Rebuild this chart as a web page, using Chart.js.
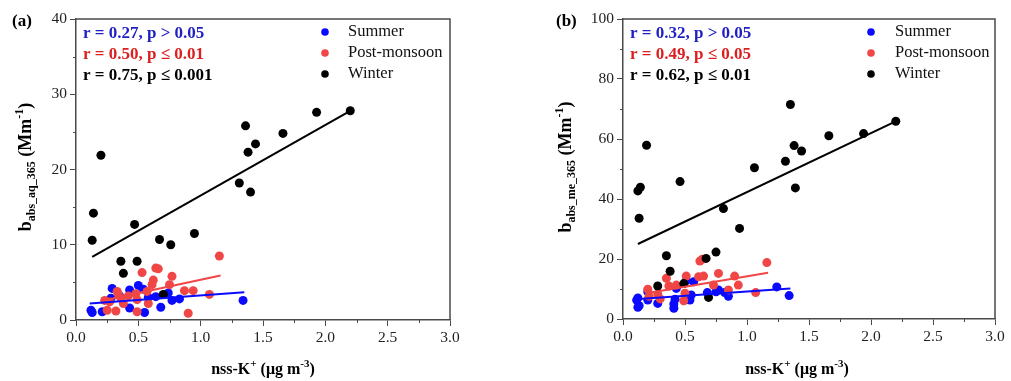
<!DOCTYPE html>
<html>
<head>
<meta charset="utf-8">
<script src="https://cdn.jsdelivr.net/npm/chart.js@4.4.0/dist/chart.umd.min.js"></script>
<style>
  body { margin: 0; background: #fff; width: 1011px; height: 381px; overflow: hidden; position: relative; }
  canvas { position: absolute; top: 0; }
  #chartA { left: 0; }
  #chartB { left: 505px; }
</style>
</head>
<body>
<canvas id="chartA" width="505" height="381"></canvas>
<canvas id="chartB" width="506" height="381"></canvas>
<script>
// series labels
var seasons = ['Summer', 'Post-monsoon', 'Winter'];

// panel (a): b_abs_aq_365 vs nss-K+  [x, y]
var aSummer = [[0.12,1.3],[0.13,1.0],[0.21,1.1],[0.28,2.9],[0.29,4.2],[0.35,3.2],[0.43,4.0],[0.43,1.6],[0.50,4.6],
  [0.54,4.1],[0.55,1.0],[0.58,3.0],[0.64,3.1],[0.68,1.7],[0.74,3.6],[0.77,2.6],[0.83,2.8],[1.34,2.6]];
var aPost = [[0.23,2.6],[0.25,1.3],[0.27,2.4],[0.32,1.2],[0.33,3.8],[0.34,3.4],[0.36,2.9],[0.38,2.2],[0.42,3.2],
  [0.48,3.5],[0.49,2.7],[0.49,1.1],[0.53,6.3],[0.57,3.8],[0.58,2.2],[0.61,4.7],[0.62,5.3],[0.64,6.9],[0.66,6.8],
  [0.75,4.7],[0.77,5.8],[0.87,3.9],[0.90,0.9],[0.94,3.9],[1.07,3.4],[1.15,8.5]];
var aWinter = [[0.13,10.6],[0.14,14.2],[0.20,21.9],[0.36,7.8],[0.38,6.2],[0.47,12.7],[0.49,7.8],[0.67,10.7],
  [0.70,3.4],[0.76,10.0],[0.95,11.5],[1.31,18.2],[1.36,25.8],[1.38,22.3],[1.40,17.0],[1.44,23.4],[1.66,24.8],
  [1.93,27.6],[2.20,27.8]];
var aSummerFit = [[0.11,2.2],[1.35,3.7]];
var aPostFit = [[0.22,2.6],[1.16,5.9]];
var aWinterFit = [[0.13,8.4],[2.20,27.8]];
var aStats = ['r = 0.27, p > 0.05', 'r = 0.50, p \u2264 0.01', 'r = 0.75, p \u2264 0.001'];

// panel (b): b_abs_me_365 vs nss-K+
var bSummer = [[0.11,6.3],[0.12,7.0],[0.13,4.4],[0.12,3.9],[0.20,9.1],[0.20,6.3],[0.28,5.2],[0.41,3.6],[0.41,5.0],
  [0.42,6.6],[0.43,10.2],[0.51,12.7],[0.54,6.3],[0.55,8.0],[0.57,12.4],[0.68,8.8],[0.75,9.1],[0.77,9.7],[0.82,8.8],
  [0.85,7.6],[1.24,10.7],[1.34,7.8]];
var bPost = [[0.20,9.9],[0.21,7.6],[0.28,8.3],[0.30,6.7],[0.35,13.6],[0.37,11.0],[0.43,11.3],[0.49,6.1],[0.50,8.6],
  [0.51,14.3],[0.61,14.1],[0.62,19.3],[0.64,19.9],[0.65,14.3],[0.73,11.3],[0.77,15.2],[0.85,9.7],[0.90,14.3],
  [0.93,11.3],[1.07,8.8],[1.16,18.8]];
var bWinter = [[0.12,42.7],[0.13,33.6],[0.14,43.9],[0.19,57.9],[0.28,11.0],[0.35,21.1],[0.38,15.9],[0.46,45.8],
  [0.49,11.8],[0.67,20.2],[0.69,7.2],[0.75,22.3],[0.81,36.8],[0.94,30.2],[1.06,50.4],[1.31,52.6],[1.35,71.5],
  [1.38,57.8],[1.39,43.7],[1.44,56.0],[1.66,61.1],[1.94,61.8],[2.20,65.9]];
var bSummerFit = [[0.10,6.6],[1.35,10.2]];
var bPostFit = [[0.19,8.6],[1.17,15.4]];
var bWinterFit = [[0.12,25.0],[2.22,66.3]];
var bStats = ['r = 0.32, p > 0.05', 'r = 0.49, p \u2264 0.05', 'r = 0.62, p \u2264 0.01'];

var xTicks = [0, 0.5, 1.0, 1.5, 2.0, 2.5, 3.0];

var BLUE = '#0a0aff', RED = '#f04646', BLACK = '#000000';
var BLUE_TXT = '#1f1fc4', RED_TXT = '#dc1f1f';
var AXIS = '#4a4a4a';
var SERIF = '"Liberation Serif", "Times New Roman", serif';

function toPts(arr) {
  return arr.map(function(p) { return { x: p[0], y: p[1] }; });
}

// text run with sub/superscripts, centred on x
function rich(ctx, parts, x, y) {
  var w = 0;
  parts.forEach(function(p) {
    ctx.font = 'bold ' + p[1] + 'px ' + SERIF;
    w += ctx.measureText(p[0]).width;
  });
  var cx = x - w / 2;
  parts.forEach(function(p) {
    ctx.font = 'bold ' + p[1] + 'px ' + SERIF;
    ctx.fillText(p[0], cx, y + p[2]);
    cx += ctx.measureText(p[0]).width;
  });
}

var decor = {
  id: 'decor',
  afterDraw: function(chart, args, o) {
    var ctx = chart.ctx, a = chart.chartArea;
    var xs = chart.scales.x, ys = chart.scales.y;
    ctx.save();

    // closing frame
    ctx.strokeStyle = AXIS;
    ctx.lineWidth = 1.5;
    ctx.beginPath();
    ctx.moveTo(a.left, a.top);
    ctx.lineTo(a.right, a.top);
    ctx.lineTo(a.right, a.bottom);
    ctx.stroke();

    // minor ticks
    ctx.lineWidth = 1;
    ctx.beginPath();
    for (var v = 0.25; v < xs.max; v += 0.5) {
      var px = Math.round(xs.getPixelForValue(v)) + 0.5;
      ctx.moveTo(px, a.bottom);
      ctx.lineTo(px, a.bottom + 3);
    }
    for (var w = o.yStep / 2; w < ys.max; w += o.yStep) {
      var py = Math.round(ys.getPixelForValue(w)) + 0.5;
      ctx.moveTo(a.left, py);
      ctx.lineTo(a.left - 3, py);
    }
    ctx.stroke();

    // panel tag
    ctx.fillStyle = '#000';
    ctx.textBaseline = 'middle';
    ctx.textAlign = 'left';
    ctx.font = 'bold 17px ' + SERIF;
    ctx.fillText(o.tag, o.tagPos[0], o.tagPos[1]);

    // r / p values
    var cols = [BLUE_TXT, RED_TXT, BLACK];
    o.stats.forEach(function(s, i) {
      ctx.fillStyle = cols[i];
      ctx.fillText(s, a.left + 7, o.statRows[i]);
    });

    // legend
    var mcols = [BLUE, RED, BLACK];
    ctx.font = '16.5px ' + SERIF;
    seasons.forEach(function(s, i) {
      ctx.fillStyle = mcols[i];
      ctx.beginPath();
      ctx.arc(o.legend[0], o.legRows[i], 3.8, 0, Math.PI * 2);
      ctx.fill();
      ctx.fillStyle = '#111';
      ctx.fillText(s, o.legend[1], o.legRows[i]);
    });

    // axis titles
    ctx.fillStyle = '#000';
    ctx.textBaseline = 'alphabetic';
    rich(ctx, [['nss-K', 16, 0], ['+', 11, -7], [' (\u03bcg m', 16, 0], ['-3', 11, -7], [')', 16, 0]],
      o.xTitle[0], o.xTitle[1]);
    ctx.translate(o.yTitle[0], o.yTitle[1]);
    ctx.rotate(-Math.PI / 2);
    rich(ctx, [['b', 18, 0], [o.sub, 12, 4], [' (Mm', 18, 0], ['-1', 12, -8], [')', 18, 0]], 0, 0);
    ctx.restore();
  }
};

function makeChart(id, d) {
  var lineSet = function(pts, color, ord) {
    return { type: 'line', data: toPts(pts), borderColor: color, borderWidth: 2, pointRadius: 0,
      showLine: true, fill: false, order: ord };
  };
  var dotSet = function(pts, color, ord) {
    return { data: toPts(pts), backgroundColor: color, borderColor: color, pointRadius: 4.5,
      pointBorderWidth: 0, order: ord };
  };
  return new Chart(document.getElementById(id), {
    type: 'scatter',
    data: {
      datasets: [
        lineSet(d.fits[0], BLUE, 0), lineSet(d.fits[1], RED, 1), lineSet(d.fits[2], BLACK, 2),
        dotSet(d.winter, BLACK, 3), dotSet(d.post, RED, 4), dotSet(d.summer, BLUE, 5)
      ]
    },
    options: {
      responsive: false,
      animation: false,
      events: [],
      layout: { padding: { top: 19, right: d.padRight, left: 0, bottom: 0 } },
      plugins: { legend: { display: false }, tooltip: { enabled: false }, decor: d.decor },
      scales: {
        x: {
          type: 'linear', min: 0, max: 3,
          afterBuildTicks: function(s) { s.ticks = xTicks.map(function(v) { return { value: v }; }); },
          afterFit: function(s) { s.height = d.xHeight; },
          ticks: { padding: 3, color: '#222', font: { family: SERIF, size: 15.5 },
            callback: function(v) { return v.toFixed(1); } },
          grid: { drawOnChartArea: false, drawTicks: true, tickLength: 6, tickColor: AXIS, tickWidth: 1 },
          border: { display: true, color: AXIS, width: 1.5 }
        },
        y: {
          type: 'linear', min: 0, max: d.yMax,
          afterFit: function(s) { s.width = d.yWidth; },
          ticks: { stepSize: d.decor.yStep, padding: 3, color: '#222', font: { family: SERIF, size: 15.5 } },
          grid: { drawOnChartArea: false, drawTicks: true, tickLength: 6, tickColor: AXIS, tickWidth: 1 },
          border: { display: true, color: AXIS, width: 1.5 }
        }
      }
    },
    plugins: [decor]
  });
}

makeChart('chartA', {
  summer: aSummer, post: aPost, winter: aWinter,
  fits: [aSummerFit, aPostFit, aWinterFit],
  yMax: 40, yWidth: 76, xHeight: 61, padRight: 55,
  decor: { yStep: 10, tag: '(a)', tagPos: [12, 22], stats: aStats, statRows: [34, 55, 76],
    legend: [325, 348], legRows: [32, 53, 74], sub: 'abs_aq_365',
    xTitle: [263, 374], yTitle: [31, 167] }
});

makeChart('chartB', {
  summer: bSummer, post: bPost, winter: bWinter,
  fits: [bSummerFit, bPostFit, bWinterFit],
  yMax: 100, yWidth: 118, xHeight: 62, padRight: 16,
  decor: { yStep: 20, tag: '(b)', tagPos: [51, 22], stats: bStats, statRows: [34, 55, 76],
    legend: [366, 390], legRows: [32, 53, 74], sub: 'abs_me_365',
    xTitle: [292, 374], yTitle: [66, 167] }
});
</script>
</body>
</html>
